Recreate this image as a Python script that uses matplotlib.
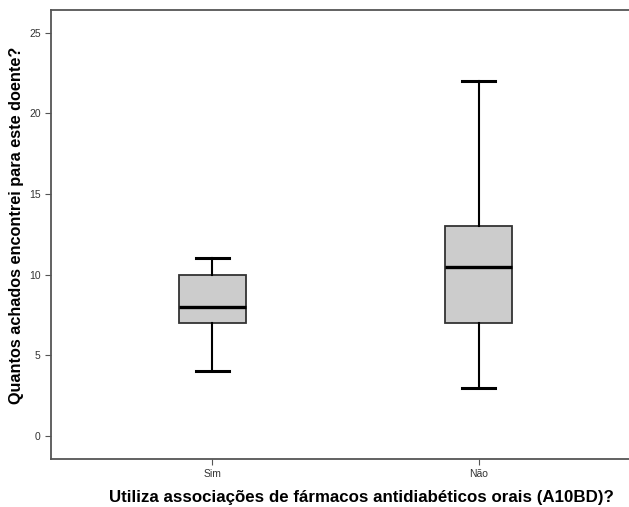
import matplotlib
matplotlib.use("Agg")
import matplotlib.pyplot as plt

plt.rcParams['font.family'] = ['Liberation Sans', 'DejaVu Sans']

groups = ["Sim", "Não"]
whislo = [4, 3]
q1 = [7, 7]
med = [8, 10.5]
q3 = [10, 13]
whishi = [11, 22]

stats = []
for i in range(len(groups)):
    stats.append({"label": groups[i], "whislo": whislo[i], "q1": q1[i], "med": med[i],
                  "q3": q3[i], "whishi": whishi[i], "fliers": []})

fig = plt.figure(figsize=(6.29, 5.07), dpi=100)
ax = fig.add_axes([0.0811, 0.0947, 0.919, 0.8856])

ax.bxp(stats, positions=[0, 1], widths=0.25, patch_artist=True, showfliers=False,
       boxprops=dict(facecolor="#cccccc", edgecolor="#333333", linewidth=1.3),
       medianprops=dict(color="black", linewidth=2.4),
       whiskerprops=dict(color="black", linewidth=1.5),
       capprops=dict(color="black", linewidth=2.2),
       capwidths=0.125)

ax.set_xlim(-0.605, 1.564)
ax.set_ylim(-1.43, 26.4)
ax.set_yticks([0, 5, 10, 15, 20, 25])
ax.set_xticks([0, 1])
ax.set_xticklabels(groups)

for s in ["left", "bottom", "top"]:
    ax.spines[s].set_color("#555555")
    ax.spines[s].set_linewidth(1.3)
ax.spines["right"].set_visible(False)

ax.tick_params(axis="both", labelsize=7.5, colors="#555555", length=4, width=0.8)
ax.tick_params(axis="both", labelcolor="#333333")

ax.set_ylabel("Quantos achados encontrei para este doente?", fontsize=11.7,
              fontweight="bold")
ax.yaxis.set_label_coords(-0.047, 0.521)
ax.set_xlabel("Utiliza associações de fármacos antidiabéticos orais (A10BD)?",
              fontsize=12.2, fontweight="bold")
ax.xaxis.set_label_coords((361 - 51) / (0.919 * 629), -0.068)

fig.savefig("out.png", dpi=100)
